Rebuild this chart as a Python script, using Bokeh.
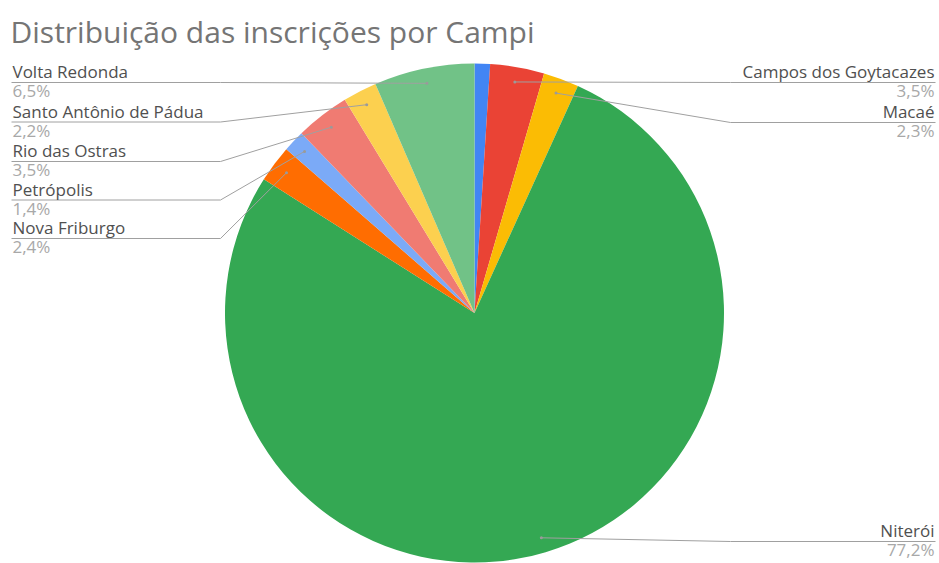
import math
from bokeh.plotting import figure
from bokeh.models import Range1d, ColumnDataSource
from bokeh.core.properties import value
from bokeh.embed import file_html
from bokeh.resources import INLINE

# ---------------- data ----------------
title_text = "Distribuição das inscrições por Campi"
campi = ["Angra dos Reis", "Campos dos Goytacazes", "Macaé", "Niterói",
         "Nova Friburgo", "Petrópolis", "Rio das Ostras",
         "Santo Antônio de Pádua", "Volta Redonda"]
percentuais = [1.0, 3.5, 2.3, 77.2, 2.4, 1.4, 3.5, 2.2, 6.5]
cores = ["#4285F4", "#EA4335", "#FBBC04", "#34A853", "#FF6D01",
         "#7BAAF7", "#F07B72", "#FCD04F", "#71C287"]

# ---------------- layout (page pixel coordinates) ----------------
W, H = 939, 563
CX, CY_PAGE, R = 474, 312.5, 249.5
ANCHOR_F = 0.94
LEFT_X, RIGHT_X = 12, 934
ELBOW_LEFT, ELBOW_RIGHT = 220, 730
NAME_DY, PCT_DY = -11, 8
label_rows = {  # name -> (side, leader line y on page)
    "Volta Redonda": ("left", 82),
    "Santo Antônio de Pádua": ("left", 121.5),
    "Rio das Ostras": ("left", 161),
    "Petrópolis": ("left", 199.5),
    "Nova Friburgo": ("left", 238),
    "Campos dos Goytacazes": ("right", 82),
    "Macaé": ("right", 122),
    "Niterói": ("right", 541),
}


def Y(py):
    return H - py


p = figure(width=W, height=H, output_backend="svg", toolbar_location=None,
           x_range=Range1d(0, W), y_range=Range1d(0, H),
           x_axis_type=None, y_axis_type=None, min_border=0)
p.outline_line_color = None
p.grid.visible = False
p.background_fill_color = "white"

total = sum(percentuais)
cum = [0.0]
for v in percentuais:
    cum.append(cum[-1] + v / total)
start = [math.pi / 2 - 2 * math.pi * cum[i + 1] for i in range(len(campi))]
end = [math.pi / 2 - 2 * math.pi * cum[i] for i in range(len(campi))]

wsrc = ColumnDataSource(dict(start=start, end=end, color=cores, name=campi))
p.wedge(x=CX, y=Y(CY_PAGE), radius=R, start_angle="start", end_angle="end",
        direction="anticlock", fill_color="color", line_color=None, source=wsrc)

# leader lines and labels
xs, ys, ax, ay = [], [], [], []
left = dict(x=[], yn=[], yp=[], n=[], t=[])
right = dict(x=[], yn=[], yp=[], n=[], t=[])
for i, name in enumerate(campi):
    if name not in label_rows:
        continue
    side, ly = label_rows[name]
    mid = (cum[i] + cum[i + 1]) / 2 * 2 * math.pi
    px = CX + ANCHOR_F * R * math.sin(mid)
    py = CY_PAGE - ANCHOR_F * R * math.cos(mid)
    ax.append(px)
    ay.append(Y(py))
    if side == "left":
        ex, tx, d = min(ELBOW_LEFT, px), LEFT_X, left
    else:
        ex, tx, d = max(ELBOW_RIGHT, px), RIGHT_X, right
    xs.append([px, ex, tx + (1 if side == "right" else -1)])
    ys.append([Y(py), Y(ly), Y(ly)])
    d["x"].append(tx)
    d["yn"].append(Y(ly + NAME_DY))
    d["yp"].append(Y(ly + PCT_DY))
    d["n"].append(name)
    d["t"].append(f"{percentuais[i]:.1f}".replace(".", ",") + "%")

p.multi_line(xs=xs, ys=ys, line_color="#a0a0a0", line_width=1)
p.scatter(x=ax, y=ay, size=3, color="#9a9a9a", line_color=None)

for d, align in ((left, "left"), (right, "right")):
    src = ColumnDataSource(d)
    p.text(x="x", y="yn", text="n", source=src, text_align=align,
           text_baseline="alphabetic", text_font=value("Open Sans"),
           text_font_size="17px", text_color="#505050")
    p.text(x="x", y="yp", text="t", source=src, text_align=align,
           text_baseline="alphabetic", text_font=value("Open Sans"),
           text_font_size="17px", text_color="#a8a8a8")

p.text(x=[10], y=[Y(31)], text=[title_text], text_align="left",
       text_baseline="alphabetic", text_font=value("Open Sans"),
       text_font_size="30px", text_color="#757575")

open("out.html", "w").write(file_html(p, INLINE))
